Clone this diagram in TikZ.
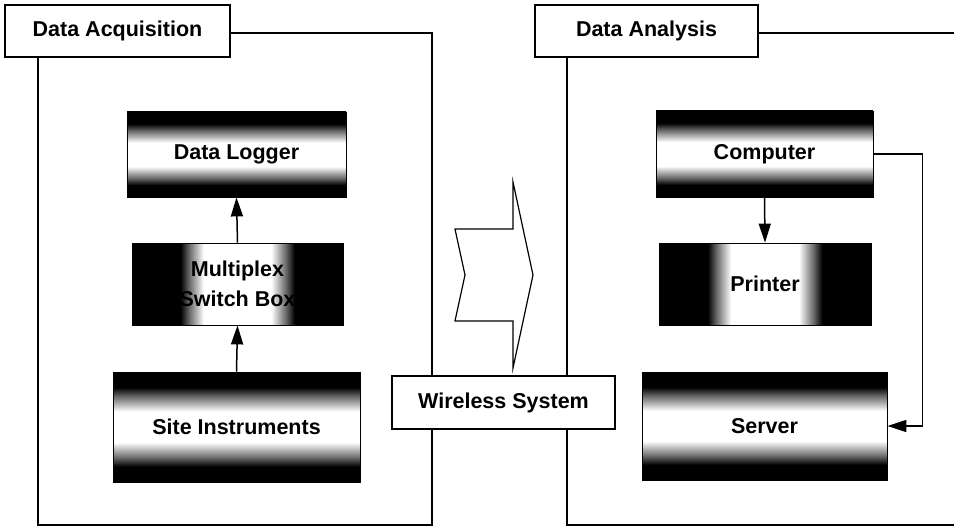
\documentclass[tikz,border=0pt]{standalone}
\usepackage{fontspec}
\setmainfont{Liberation Sans}
\usetikzlibrary{arrows.meta}
\pgfdeclareverticalshading{vband}{100bp}{color(0bp)=(black); color(32bp)=(black); color(36bp)=(black!60); color(43bp)=(white); color(57bp)=(white); color(64bp)=(black!60); color(68bp)=(black); color(100bp)=(black)}
\pgfdeclarehorizontalshading{hband}{100bp}{color(0bp)=(black); color(36.5bp)=(black); color(38.5bp)=(black!60); color(42bp)=(white); color(58bp)=(white); color(61.5bp)=(black!60); color(63.5bp)=(black); color(100bp)=(black)}
\begin{document}
\begin{tikzpicture}[x=1pt,y=-1pt,
  font=\fontsize{21.5}{27}\selectfont\bfseries,
  panel/.style={draw=black, line width=1.3pt},
  titlebox/.style={draw=black, fill=white, line width=1.3pt, inner sep=0pt},
  vbox/.style={draw=black, line width=0.8pt, shade, shading=vband, inner sep=0pt},
  hbox/.style={draw=black, line width=0.8pt, shade, shading=hband, inner sep=0pt, align=center},
  arr/.style={-{Triangle[length=19pt,width=12pt]}, line width=1.5pt}]
\useasboundingbox (0,0) rectangle (954,527);
% panels
\draw[panel] (38,33) rectangle (432,525);
\draw[panel] (954,33) -- (567,33) -- (567,525) -- (954,525);
% title boxes
\node[titlebox, minimum width=225pt, minimum height=52pt] (tA) at (117.5,31) {Data Acquisition};
\node[titlebox, minimum width=223pt, minimum height=52pt] (tB) at (646.5,31) {Data Analysis};
% big hollow arrow
\draw[line width=1.2pt] (455,229) -- (513,229) -- (513,182) -- (533,275) -- (513,368) -- (513,321) -- (455,321) -- (465,275) -- cycle;
\node[titlebox, minimum width=223pt, minimum height=53pt] (ws) at (503.5,402.5) {Wireless System};
% left boxes
\node[vbox, minimum width=219pt, minimum height=85pt] (logger) at (236.5,154.5) {Data Logger};
\node[hbox, minimum width=211pt, minimum height=82pt] (mux) at (237.5,284) {Multiplex\\[3pt]Switch Box};
\node[vbox, minimum width=247pt, minimum height=110pt] (site) at (236.5,427) {Site Instruments};
% right boxes
\node[vbox, minimum width=217pt, minimum height=86pt] (comp) at (764.5,154) {Computer};
\node[hbox, minimum width=212pt, minimum height=82pt] (printer) at (765,284) {Printer};
\node[vbox, minimum width=245pt, minimum height=108pt] (server) at (764.5,426) {Server};
% connectors
\draw[arr] (mux.north) -- (logger.south);
\draw[arr] (site.north) -- (mux.south);
\draw[arr] (comp.south) -- (printer.north);
\draw[arr] (comp.east) -- ++(49,0) |- (server.east);
\end{tikzpicture}
\end{document}
